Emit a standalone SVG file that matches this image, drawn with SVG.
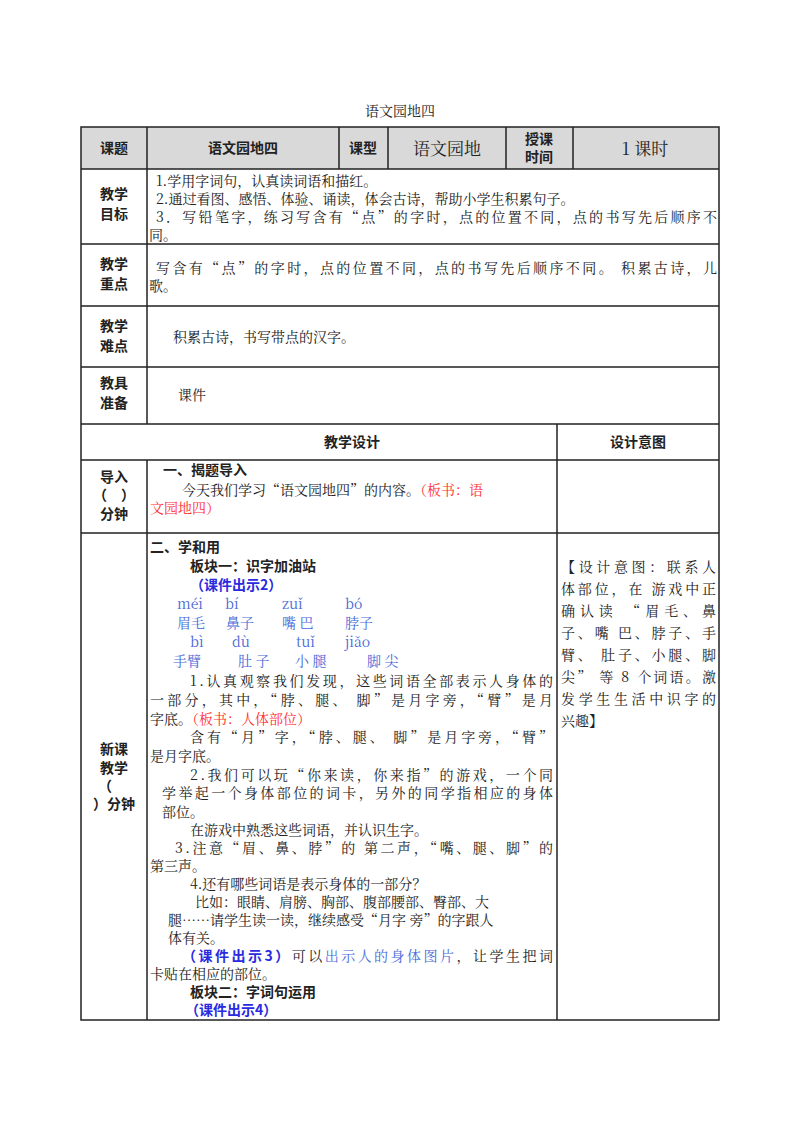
<svg xmlns="http://www.w3.org/2000/svg" width="800" height="1132" viewBox="0 0 800 1132">
<style>
text{font-family:"Noto Serif CJK SC","Noto Sans CJK SC",serif;font-size:14px;fill:#222}
.b{font-weight:bold;font-family:"Noto Sans CJK SC",sans-serif}
.m{text-anchor:middle}
.blue{fill:#2a2ae0}
.pb{fill:#4a6ad8}
.red{fill:#ff3030}
.l{stroke:#222;stroke-width:1.5;fill:none}
</style>
<rect width="800" height="1132" fill="#fff"/>
<text x="400" y="116" class="m">语文园地四</text>
<g id="table">
<rect x="81" y="127" width="638" height="42" fill="#d9d9d9"/>
<rect x="81" y="127" width="638" height="893" class="l" stroke-width="2"/>
<path class="l" d="M81 169H719M81 244H719M81 306H719M81 367H719M81 424H719M81 460H719M81 533H719M147 127V424M147 460V1020M339 127V169M388 127V169M506 127V169M573 127V169M557 424V1020"/>
</g>
<g id="header">
<text x="114" y="153" class="m b">课题</text>
<text x="243" y="153" class="m b">语文园地四</text>
<text x="363" y="153" class="m b">课型</text>
<text x="447" y="155" class="m" style="font-size:17px">语文园地</text>
<text x="539" y="144" class="m b">授课</text>
<text x="539" y="162" class="m b">时间</text>
<text x="645" y="155" class="m" style="font-size:17px">1 课时</text>
</g>
<g id="goals">
<text x="114" y="199" class="m b">教学</text><text x="114" y="219" class="m b">目标</text>
<text x="156" y="186">1.学用字词句，认真读词语和描红。</text>
<text x="156" y="204">2.通过看图、感悟、体验、诵读，体会古诗，帮助小学生积累句子。</text>
<text x="156" y="222" textLength="561" lengthAdjust="spacing">3．写铅笔字，练习写含有“点”的字时，点的位置不同，点的书写先后顺序不</text>
<text x="149" y="240">同。</text>
</g>
<g id="key">
<text x="114" y="269" class="m b">教学</text><text x="114" y="289" class="m b">重点</text>
<text x="156" y="273" textLength="561" lengthAdjust="spacing">写含有“点”的字时，点的位置不同，点的书写先后顺序不同。 积累古诗，儿</text>
<text x="149" y="291">歌。</text>
</g>
<g id="hard">
<text x="114" y="331" class="m b">教学</text><text x="114" y="351" class="m b">难点</text>
<text x="173" y="342">积累古诗，书写带点的汉字。</text>
</g>
<g id="tools">
<text x="114" y="388" class="m b">教具</text><text x="114" y="408" class="m b">准备</text>
<text x="178" y="400">课件</text>
</g>
<g id="design-head">
<text x="352" y="447" class="m b">教学设计</text>
<text x="638" y="447" class="m b">设计意图</text>
</g>
<g id="intro">
<text x="114" y="482" class="m b">导入</text>
<text x="114" y="500" class="m b">（　）</text>
<text x="114" y="519" class="m b">分钟</text>
<text x="163" y="475" class="b">一、揭题导入</text>
<text x="182" y="495">今天我们学习“语文园地四”的内容。<tspan class="red">（板书：语</tspan></text>
<text x="150" y="513" class="red">文园地四）</text>
</g>
<g id="new">
<text x="114" y="754" class="m b">新课</text>
<text x="114" y="773" class="m b">教学</text>
<text x="98" y="791" class="b">（</text>
<text x="114" y="809" class="m b">）分钟</text>
<text x="150" y="552" class="b">二、学和用</text>
<text x="190" y="571" class="b">板块一：识字加油站</text>
<text x="190" y="590" class="b blue">（课件出示2）</text>
<text y="609" class="pb"><tspan x="177">méi</tspan><tspan x="225">bí</tspan><tspan x="282">zuǐ</tspan><tspan x="345">bó</tspan></text>
<text y="628" class="pb"><tspan x="177">眉毛</tspan><tspan x="226">鼻子</tspan><tspan x="282">嘴 巴</tspan><tspan x="345">脖子</tspan></text>
<text y="647" class="pb"><tspan x="190">bì</tspan><tspan x="232">dù</tspan><tspan x="296">tuǐ</tspan><tspan x="345">jiǎo</tspan></text>
<text y="666" class="pb"><tspan x="173">手臂</tspan><tspan x="238">肚 子</tspan><tspan x="295">小 腿</tspan><tspan x="367">脚 尖</tspan></text>
<text x="190" y="686" textLength="363" lengthAdjust="spacing">1.认真观察我们发现，这些词语全部表示人身体的</text>
<text x="150" y="705" textLength="403" lengthAdjust="spacing">一部分，其中，“脖、腿、 脚”是月字旁，“臂”是月</text>
<text x="150" y="724">字底。<tspan class="red">（板书：人体部位）</tspan></text>
<text x="190" y="742" textLength="363" lengthAdjust="spacing">含有“月”字，“脖、腿、 脚”是月字旁，“臂”</text>
<text x="150" y="761">是月字底。</text>
<text x="190" y="780" textLength="363" lengthAdjust="spacing">2.我们可以玩“你来读，你来指”的游戏，一个同</text>
<text x="162" y="798" textLength="391" lengthAdjust="spacing">学举起一个身体部位的词卡，另外的同学指相应的身体</text>
<text x="162" y="817">部位。</text>
<text x="190" y="835">在游戏中熟悉这些词语，并认识生字。</text>
<text x="175" y="853" textLength="378" lengthAdjust="spacing">3.注意“眉、鼻、脖”的 第二声，“嘴、腿、脚”的</text>
<text x="150" y="871">第三声。</text>
<text x="190" y="889">4.还有哪些词语是表示身体的一部分？</text>
<text x="195" y="907">比如：眼睛、肩膀、胸部、腹部腰部、臀部、大</text>
<text x="168" y="925">腿……请学生读一读，继续感受“月字 旁”的字跟人</text>
<text x="168" y="943">体有关。</text>
<text x="182" y="961" textLength="371" lengthAdjust="spacing"><tspan class="b blue">（课件出示3）</tspan>可以<tspan class="pb">出示人的身体图片</tspan>，让学生把词</text>
<text x="150" y="979">卡贴在相应的部位。</text>
<text x="190" y="997" class="b">板块二：字词句运用</text>
<text x="185" y="1015" class="b blue">（课件出示4）</text>
</g>
<g id="intent">
<text x="561" y="572" textLength="155" lengthAdjust="spacing">【设计意图：联系人</text>
<text x="561" y="594" textLength="155" lengthAdjust="spacing">体部位，在 游戏中正</text>
<text x="561" y="616" textLength="155" lengthAdjust="spacing">确认读 “眉毛、鼻</text>
<text x="561" y="638" textLength="155" lengthAdjust="spacing">子、嘴 巴、脖子、手</text>
<text x="561" y="660" textLength="155" lengthAdjust="spacing">臂、 肚子、小腿、脚</text>
<text x="561" y="682" textLength="155" lengthAdjust="spacing">尖” 等 8 个词语。激</text>
<text x="561" y="704" textLength="155" lengthAdjust="spacing">发学生生活中识字的</text>
<text x="561" y="726">兴趣】</text>
</g>
</svg>
